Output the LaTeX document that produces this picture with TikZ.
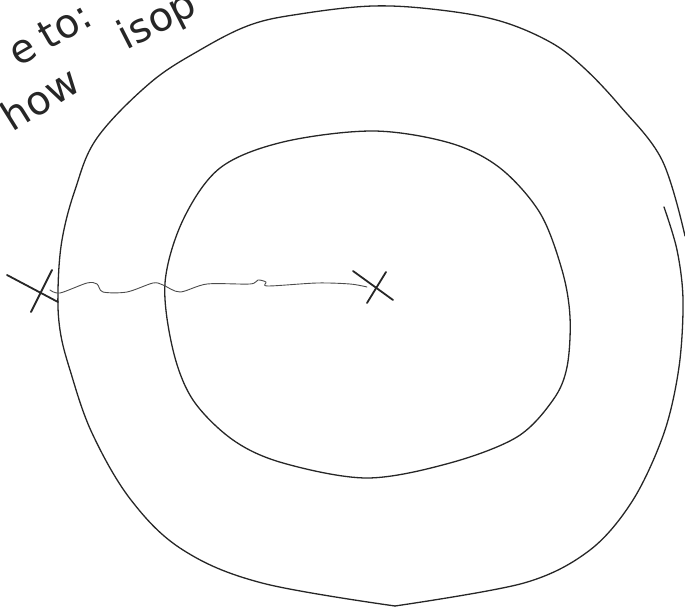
\documentclass[tikz,border=0pt]{standalone}
\usepackage{fontspec}
\setsansfont{DejaVu Sans}
\begin{document}
\begin{tikzpicture}[x=1pt,y=-1pt,
  pen/.style={line width=1.3pt,line join=round,line cap=round,black!85},
  thin pen/.style={line width=0.9pt,line cap=round,black!70},
  cross/.style={line width=1.8pt,line cap=round,black!85},
  hand/.style={font=\sffamily\fontsize{40}{42}\selectfont\mdseries,text=black!85,inner sep=0pt}]
\useasboundingbox (0,0) rectangle (685,609);
% outer loop
\draw[pen] plot[smooth,tension=0.6] coordinates {
 (685,236) (662,160) (620,106) (583,67) (550,42) (500,21) (440,10) (373,6)
 (300,14) (250,25) (200,50) (150,83) (97,138) (75,190) (62,240) (58,290)
 (60,330) (70,370) (92,433) (131,500) (183,550) (262,583) (395,606)};
\draw[pen] plot[smooth,tension=0.55] coordinates {
 (395,606) (524,583) (590,550) (633,500) (664,433) (679,367) (683,300)
 (677,250) (664,207)};
% inner loop
\draw[pen] plot[smooth cycle,tension=0.55] coordinates {
 (165,283) (183,220) (220,168) (283,142) (373,131) (450,143) (500,168)
 (540,213) (562,270) (570,317) (567,367) (553,400) (517,437) (450,463)
 (367,478) (283,463) (233,440) (193,400) (173,350)};
% crosses
\coordinate (L) at (40,292);
\coordinate (R) at (377,288);
\draw[cross] (7,275) -- (58,302);
\draw[cross] (52,270) -- (31,312);
\draw[cross] (353,271) -- (393,300);
\draw[cross] (386,272) -- (367,303);
% wiggly line
\draw[thin pen] plot[smooth,tension=0.5] coordinates {
 (50,290) (60,293) (87,283) (97,284) (103,292) (127,292) (153,283)
 (163,285) (180,292) (207,284) (250,284) (258,280) (266,282) (268,286)
 (317,283) (350,284) (367,287)};
% handwriting
\node[hand,rotate=30] (t1) at (50,34) {e\hspace{0.25em}to:};
\node[hand,rotate=27] (t3) at (158,22) {isop};
\node[hand,rotate=32] (t4) at (40,98) {how};
\end{tikzpicture}
\end{document}
